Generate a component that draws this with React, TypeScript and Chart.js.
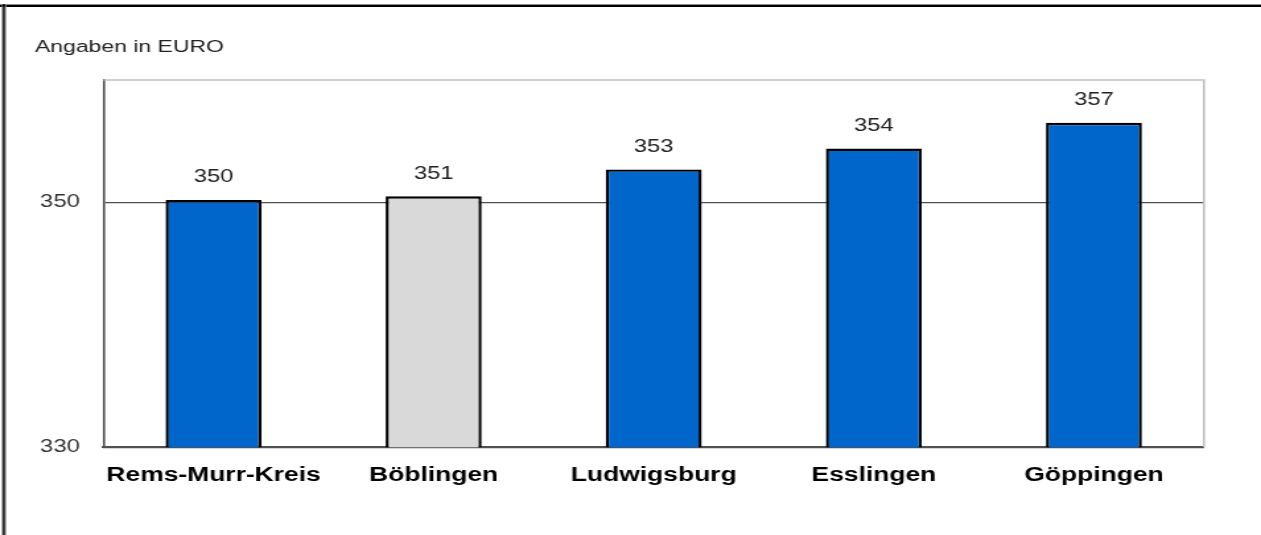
import React, { useEffect, useRef } from "react";
import { Chart, registerables } from "chart.js";

Chart.register(...registerables);

const categories = ["Rems-Murr-Kreis", "Böblingen", "Ludwigsburg", "Esslingen", "Göppingen"];
const values = [350.2, 350.5, 352.7, 354.4, 356.5];
const barColors = ["#0066CC", "#D9D9D9", "#0066CC", "#0066CC", "#0066CC"];
const yTicks = [330, 350];
const yMin = 330;
const yMax = 360;
const unitLabel = "Angaben in EURO";

const PAGE_W = 1261;
const PAGE_H = 535;
const STRETCH = 1.3204;
const CW = Math.round(PAGE_W / STRETCH);
const FONT = '"Liberation Sans", Arial, sans-serif';

const decorPlugin = {
  id: "decor",
  beforeDraw(chart: any) {
    const ctx = chart.ctx;
    const W = chart.width;
    const H = chart.height;
    ctx.save();
    ctx.fillStyle = "#ffffff";
    ctx.fillRect(0, 0, W, H);
    // outer frame
    ctx.fillStyle = "#8a8a8a";
    ctx.fillRect(0, 4, W, 1);
    ctx.fillStyle = "#000000";
    ctx.fillRect(0, 5, W, 2);
    ctx.fillStyle = "#8a8a8a";
    ctx.fillRect(1.3, 4, 0.9, H);
    ctx.fillStyle = "#000000";
    ctx.fillRect(2.2, 4, 1.6, H);
    ctx.fillStyle = "#9a9a9a";
    ctx.fillRect(3.8, 4, 0.9, H);
    // unit label
    ctx.fillStyle = "#222222";
    ctx.font = `17.4px ${FONT}`;
    ctx.textAlign = "left";
    ctx.textBaseline = "alphabetic";
    ctx.fillText(unitLabel, 26.5, 52);
    ctx.restore();
  },
  afterDatasetsDraw(chart: any) {
    const ctx = chart.ctx;
    const meta = chart.getDatasetMeta(0);
    ctx.save();
    ctx.fillStyle = "#222222";
    ctx.font = `18px ${FONT}`;
    ctx.textAlign = "center";
    ctx.textBaseline = "middle";
    meta.data.forEach((bar: any, i: number) => {
      ctx.fillText(String(Math.round(values[i])), bar.x, bar.y - 22.5);
    });
    ctx.restore();
  },
  afterDraw(chart: any) {
    const { ctx, chartArea } = chart;
    ctx.save();
    ctx.strokeStyle = "#c0c0c0";
    ctx.lineWidth = 1.6;
    ctx.beginPath();
    ctx.moveTo(chartArea.left, chartArea.top);
    ctx.lineTo(chartArea.right, chartArea.top);
    ctx.lineTo(chartArea.right, chartArea.bottom);
    ctx.stroke();
    ctx.restore();
  },
};

export default function App() {
  const ref = useRef<HTMLCanvasElement | null>(null);

  useEffect(() => {
    document.body.style.margin = "0";
    const canvas = ref.current;
    if (!canvas) return;
    Chart.defaults.font.family = FONT;
    const chart = new Chart(canvas, {
      type: "bar",
      data: {
        labels: categories,
        datasets: [
          {
            data: values,
            backgroundColor: barColors,
            borderColor: "#000000",
            borderWidth: 2.4,
            borderSkipped: false,
            barPercentage: 0.436,
            categoryPercentage: 1,
          },
        ],
      },
      options: {
        responsive: false,
        animation: false,
        devicePixelRatio: 1,
        layout: { padding: { left: 18.4, right: 43.2, top: 80, bottom: 27.7 } },
        plugins: {
          legend: { display: false },
          tooltip: { enabled: false },
          title: { display: false },
        },
        scales: {
          x: {
            grid: { drawOnChartArea: false, drawTicks: false },
            border: { display: true, color: "#505050", width: 2 },
            ticks: {
              color: "#000000",
              font: { family: FONT, size: 20, weight: "bold" },
              padding: 16,
              maxRotation: 0,
              autoSkip: false,
            },
            afterFit: (s: any) => {
              s.height = 60;
            },
          },
          y: {
            min: yMin,
            max: yMax,
            afterBuildTicks: (a: any) => {
              a.ticks = yTicks.map((v) => ({ value: v }));
            },
            grid: { color: "#505050", lineWidth: 1.3, drawTicks: false },
            border: { color: "#505050", width: 1.6 },
            ticks: {
              color: "#333333",
              font: { family: FONT, size: 18 },
              padding: 18,
            },
            afterFit: (s: any) => {
              s.width = 60;
            },
          },
        },
      },
      plugins: [decorPlugin],
    } as any);
    return () => chart.destroy();
  }, []);

  return (
    <canvas
      ref={ref}
      width={CW}
      height={PAGE_H}
      style={{ width: `${PAGE_W}px`, height: `${PAGE_H}px`, display: "block" }}
    />
  );
}
